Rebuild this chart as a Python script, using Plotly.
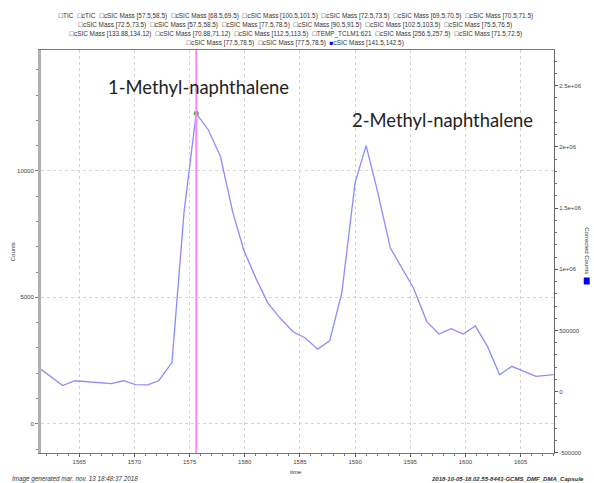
import plotly.graph_objects as go

# ---- data ----
time_s = [1561.5, 1563.5, 1564.6, 1565.7, 1566.8, 1567.9, 1569.0, 1570.1, 1571.2, 1572.2,
          1573.4, 1574.5, 1575.6, 1576.7, 1577.8, 1578.9, 1579.9, 1581.0, 1582.1, 1583.2,
          1584.4, 1585.5, 1586.6, 1587.7, 1588.8, 1590.0, 1591.0, 1592.0, 1593.2, 1594.3,
          1595.3, 1596.5, 1597.6, 1598.7, 1599.8, 1600.9, 1602.0, 1603.1, 1604.2, 1605.3,
          1606.4, 1608.0]
counts = [2160, 1510, 1700, 1670, 1630, 1590, 1700, 1550, 1540, 1700,
          2420, 8390, 12280, 11620, 10570, 8390, 6880, 5760, 4770, 4180,
          3630, 3390, 2950, 3280, 5190, 9540, 11000, 9250, 6950, 6090,
          5360, 4040, 3550, 3760, 3550, 3870, 3060, 1940, 2270, 2070,
          1870, 1940]

cursor_time = 1575.6
cursor_count = 12280

peak_labels = ["1-Methyl-naphthalene", "2-Methyl-naphthalene"]
peak_label_pos = [(1575.85, 13320), (1597.9, 12020)]

x_ticks = [1565, 1570, 1575, 1580, 1585, 1590, 1595, 1600, 1605]
y_ticks = [0, 5000, 10000]
y2_ticks = [-500000, 0, 500000, 1000000, 1500000, 2000000, 2500000]
y2_ticklabels = ["-500000", "0", "500000", "1e+06", "1.5e+06", "2e+06", "2.5e+06"]

legend_rows = [
    ["TIC", "cTIC", "cSIC Mass [57.5,58.5)", "cSIC Mass [68.5,69.5)", "cSIC Mass [100.5,101.5)",
     "cSIC Mass [72.5,73.5)", "cSIC Mass [69.5,70.5)", "cSIC Mass [70.5,71.5)"],
    ["cSIC Mass [72.5,73.5)", "cSIC Mass [57.5,58.5)", "cSIC Mass [77.5,78.5)", "cSIC Mass [90.5,91.5)",
     "cSIC Mass [102.5,103.5)", "cSIC Mass [75.5,76.5)"],
    ["cSIC Mass [133.88,134.12)", "cSIC Mass [70.88,71.12)", "cSIC Mass [112.5,113.5)", "TEMP_TCLM1:621",
     "cSIC Mass [256.5,257.5)", "cSIC Mass [71.5,72.5)"],
    ["cSIC Mass [77.5,78.5)", "cSIC Mass [77.5,78.5)", "cSIC Mass [141.5,142.5)"],
]
active_row, active_col = 3, 2

footer_left = "Image generated mar. nov. 13 18:48:37 2018"
footer_right = "2018-10-05-18.02.55-8443-GCMS_DMF_DMA_Capsule"

# ---- figure geometry (page pixels; body margin removed in the page) ----
W, H = 594, 483
PLOT_L, PLOT_R, PLOT_T, PLOT_B = 41, 558, 50, 453
L, T, R, B = PLOT_L, PLOT_T, W - PLOT_R, H - PLOT_B
pw, ph = W - L - R, H - T - B

def px_x(p):
    return (p - PLOT_L) / pw

def px_y(p):
    return (PLOT_B - p) / ph

fig = go.Figure()
fig.add_trace(go.Scatter(x=time_s, y=counts, mode="lines",
                         line=dict(color="#8c8cff", width=1.3), hoverinfo="skip", showlegend=False))
fig.add_trace(go.Scatter(x=[cursor_time], y=[cursor_count], mode="markers",
                         marker=dict(color="#3aa83a", size=5), showlegend=False))
fig.add_trace(go.Scatter(x=[], y=[], yaxis="y2", showlegend=False))

fig.add_shape(type="line", xref="x", yref="paper", x0=cursor_time, x1=cursor_time, y0=0, y1=1,
              line=dict(color="#ff88ff", width=2), layer="above")
# blue legend swatch next to the right axis title
fig.add_shape(type="rect", xref="paper", yref="paper",
              x0=px_x(588), x1=px_x(594), y0=px_y(284.5), y1=px_y(277.5),
              line=dict(width=0), fillcolor="#0000ee")

tickfont = dict(family="Liberation Sans, Arial", size=6, color="#444")
small = dict(family="Liberation Sans, Arial", size=6, color="#333")

annotations = []
for txt, (xv, yv) in zip(peak_labels, peak_label_pos):
    annotations.append(dict(x=xv, y=yv, xref="x", yref="y", text=txt, showarrow=False,
                            xanchor="center", yanchor="middle",
                            font=dict(family="Lato", size=18.4, color="#222")))

row_y = [16, 25, 34, 43]
for ri, (yy, row) in enumerate(zip(row_y, legend_rows)):
    parts = []
    for ci, item in enumerate(row):
        if ri == active_row and ci == active_col:
            parts.append('<span style="color:#0000ee">■</span>' + item)
        else:
            parts.append("☐" + item)
    annotations.append(dict(x=px_x(297), y=px_y(yy), xref="paper", yref="paper", text="  ".join(parts),
                            showarrow=False, xanchor="center", yanchor="middle",
                            font=dict(family="Liberation Sans, Arial", size=6.4, color="#333")))

def label(xp, yp, text, font, xanchor="center", angle=0):
    return dict(x=px_x(xp), y=px_y(yp), xref="paper", yref="paper", text=text, showarrow=False,
                xanchor=xanchor, yanchor="middle", textangle=angle, font=font)

annotations += [
    label(298, 472, "time", small),
    label(13, 252, "Counts", small, angle=-90),
    label(591, 251, "Corrected Counts", small, angle=90),
    label(10, 479, "<i>" + footer_left + "</i>",
          dict(family="Liberation Sans, Arial", size=6.3, color="#333"), xanchor="left"),
    label(432, 479, "<b><i>" + footer_right + "</i></b>", small, xanchor="left"),
]

fig.update_layout(
    width=W, height=H,
    margin=dict(l=L, r=R, t=T, b=B, pad=0),
    paper_bgcolor="white", plot_bgcolor="white",
    showlegend=False,
    annotations=annotations,
    xaxis=dict(range=[1561.53, 1608.03], tickvals=x_ticks, ticktext=[str(v) for v in x_ticks],
               tickfont=tickfont, ticks="outside", ticklen=3, tickcolor="#555",
               showline=True, linecolor="#777", linewidth=1, mirror=True,
               showgrid=True, gridcolor="#d4d4d4", griddash="dot", gridwidth=1, zeroline=False,
               minor=dict(ticks="outside", dtick=1, ticklen=2, tickcolor="#777", showgrid=False)),
    yaxis=dict(range=[-1158, 14783], tickvals=y_ticks, ticktext=[str(v) for v in y_ticks],
               tickfont=tickfont, ticks="outside", ticklen=3, tickcolor="#777",
               showline=True, linecolor="#b0b0b0", linewidth=3,
               showgrid=True, gridcolor="#d4d4d4", griddash="dot", gridwidth=1, zeroline=False,
               minor=dict(ticks="outside", dtick=1000, ticklen=2, tickcolor="#888", showgrid=False)),
    yaxis2=dict(range=[-501000, 2792000], overlaying="y", side="right", anchor="x",
                tickvals=y2_ticks, ticktext=y2_ticklabels, tickfont=tickfont,
                ticks="outside", ticklen=3, tickcolor="#555",
                showline=True, linecolor="#666", linewidth=1, showgrid=False, zeroline=False,
                minor=dict(ticks="outside", dtick=100000, ticklen=2, tickcolor="#777")),
)

fig.write_html("out.html", config={"displayModeBar": False},
               post_script="document.body.style.margin='0';document.body.style.overflow='hidden';")
